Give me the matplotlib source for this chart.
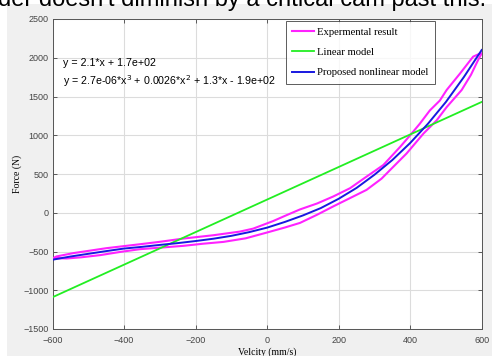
import matplotlib
matplotlib.use("Agg")
import matplotlib.pyplot as plt
from matplotlib.patches import Rectangle

# ---- data ----
exp_lower_v = [-598, -560, -520, -467, -410, -355, -290, -234, -180, -122, -60, -1, 50, 92,
               140, 185, 230, 278, 320, 344, 390, 437, 474, 502, 544, 570, 590, 598]
exp_lower_f = [-585, -590, -575, -547, -505, -470, -447, -427, -400, -376, -330, -256, -190, -131,
               -25, 82, 185, 295, 440, 552, 765, 1021, 1192, 1363, 1584, 1780, 1971, 2040]
exp_upper_v = [598, 576, 540, 502, 483, 455, 427, 400, 372, 325, 278, 232, 185, 140, 92, 50,
               17, -39, -76, -150, -234, -300, -355, -449, -542, -589, -598]
exp_upper_f = [2060, 2014, 1800, 1584, 1448, 1320, 1149, 1000, 850, 616, 466, 317, 210, 120, 43, -40,
               -107, -205, -243, -290, -333, -375, -406, -457, -521, -564, -585]

lin_v = [-600, 600]
lin_f = [-1090, 1430]

nl_v = [-600, -550, -500, -450, -400, -350, -300, -250, -200, -150, -100, -50, 0,
        50, 100, 150, 200, 250, 300, 350, 400, 450, 500, 550, 600]
nl_f = [-606, -565, -530, -495, -462, -440, -415, -392, -365, -335, -298, -250, -192,
        -118, -35, 60, 180, 320, 490, 680, 900, 1150, 1430, 1750, 2100]

legend_labels = ["Expermental result", "Linear model", "Proposed nonlinear model"]
eq1 = "y = 2.1*x + 1.7e+02"
eq2 = "y = 2.7e-06*x$^{3}$ + 0.0026*x$^{2}$ + 1.3*x - 1.9e+02"
caption = "der doesn't diminish by a critical cam past this."
xticks = [-600, -400, -200, 0, 200, 400, 600]
yticks = [-1500, -1000, -500, 0, 500, 1000, 1500, 2000, 2500]

W, H = 492, 356
fig = plt.figure(figsize=(W / 100, H / 100), dpi=100)
fig.patch.set_facecolor("white")
fig.patches.append(Rectangle((7 / W, 0), 1 - 7 / W, 1 - 4 / H, transform=fig.transFigure,
                             facecolor="#f0f0f0", edgecolor="none", zorder=-5))
fig.text(-2 / W, 1 - 6 / H, caption, fontsize=17, family="Liberation Sans",
         color="black", va="baseline", ha="left", zorder=5)

L, R, T, B = 52.5, 481.7, 19, 329
ax = fig.add_axes([L / W, 1 - B / H, (R - L) / W, (B - T) / H], zorder=1)
ax.set_facecolor("white")

ax.plot(exp_lower_v + exp_upper_v, exp_lower_f + exp_upper_f, color="#ff22ff", lw=1.5,
        label=legend_labels[0], zorder=3)
ax.plot(lin_v, lin_f, color="#22ee22", lw=1.3, label=legend_labels[1], zorder=3)
ax.plot(nl_v, nl_f, color="#1818e0", lw=1.4, label=legend_labels[2], zorder=4)

ax.set_xlim(-600, 600)
ax.set_ylim(-1500, 2500)
ax.set_xticks(xticks)
ax.set_yticks(yticks)
ax.grid(True, color="#dcdcdc", lw=0.8)
ax.set_axisbelow(True)
ax.tick_params(direction="in", top=True, right=True, length=3, width=0.6,
               labelsize=6.5, colors="#444444")
ax.tick_params(axis="x", pad=5)
ax.tick_params(axis="y", pad=3)
for lab in ax.get_xticklabels() + ax.get_yticklabels():
    lab.set_family("Liberation Sans")
for s in ax.spines.values():
    s.set_color("#555555")
    s.set_linewidth(0.7)

ax.set_xlabel("Velcity (mm/s)", family="Liberation Serif", fontsize=7, labelpad=2)
ax.set_ylabel("Force (N)", family="Liberation Serif", fontsize=7, labelpad=1)

fig.text(63 / W, 1 - 66 / H, eq1, fontsize=7.7, family="Liberation Sans", va="baseline", zorder=5)
fig.text(63 / W, 1 - 85 / H, eq2, fontsize=7.7, family="Liberation Sans", va="baseline", zorder=5)

leg = ax.legend(loc="upper left", bbox_to_anchor=((286 - L) / (R - L), (B - 21) / (B - T)),
                prop={"family": "Liberation Serif", "size": 7.7}, frameon=True, fancybox=False,
                handlelength=2.0, handletextpad=0.3, borderpad=0.6, labelspacing=1.0,
                borderaxespad=0)
leg.get_frame().set_edgecolor("#333333")
leg.get_frame().set_linewidth(0.7)

fig.savefig("out.png", dpi=100)
